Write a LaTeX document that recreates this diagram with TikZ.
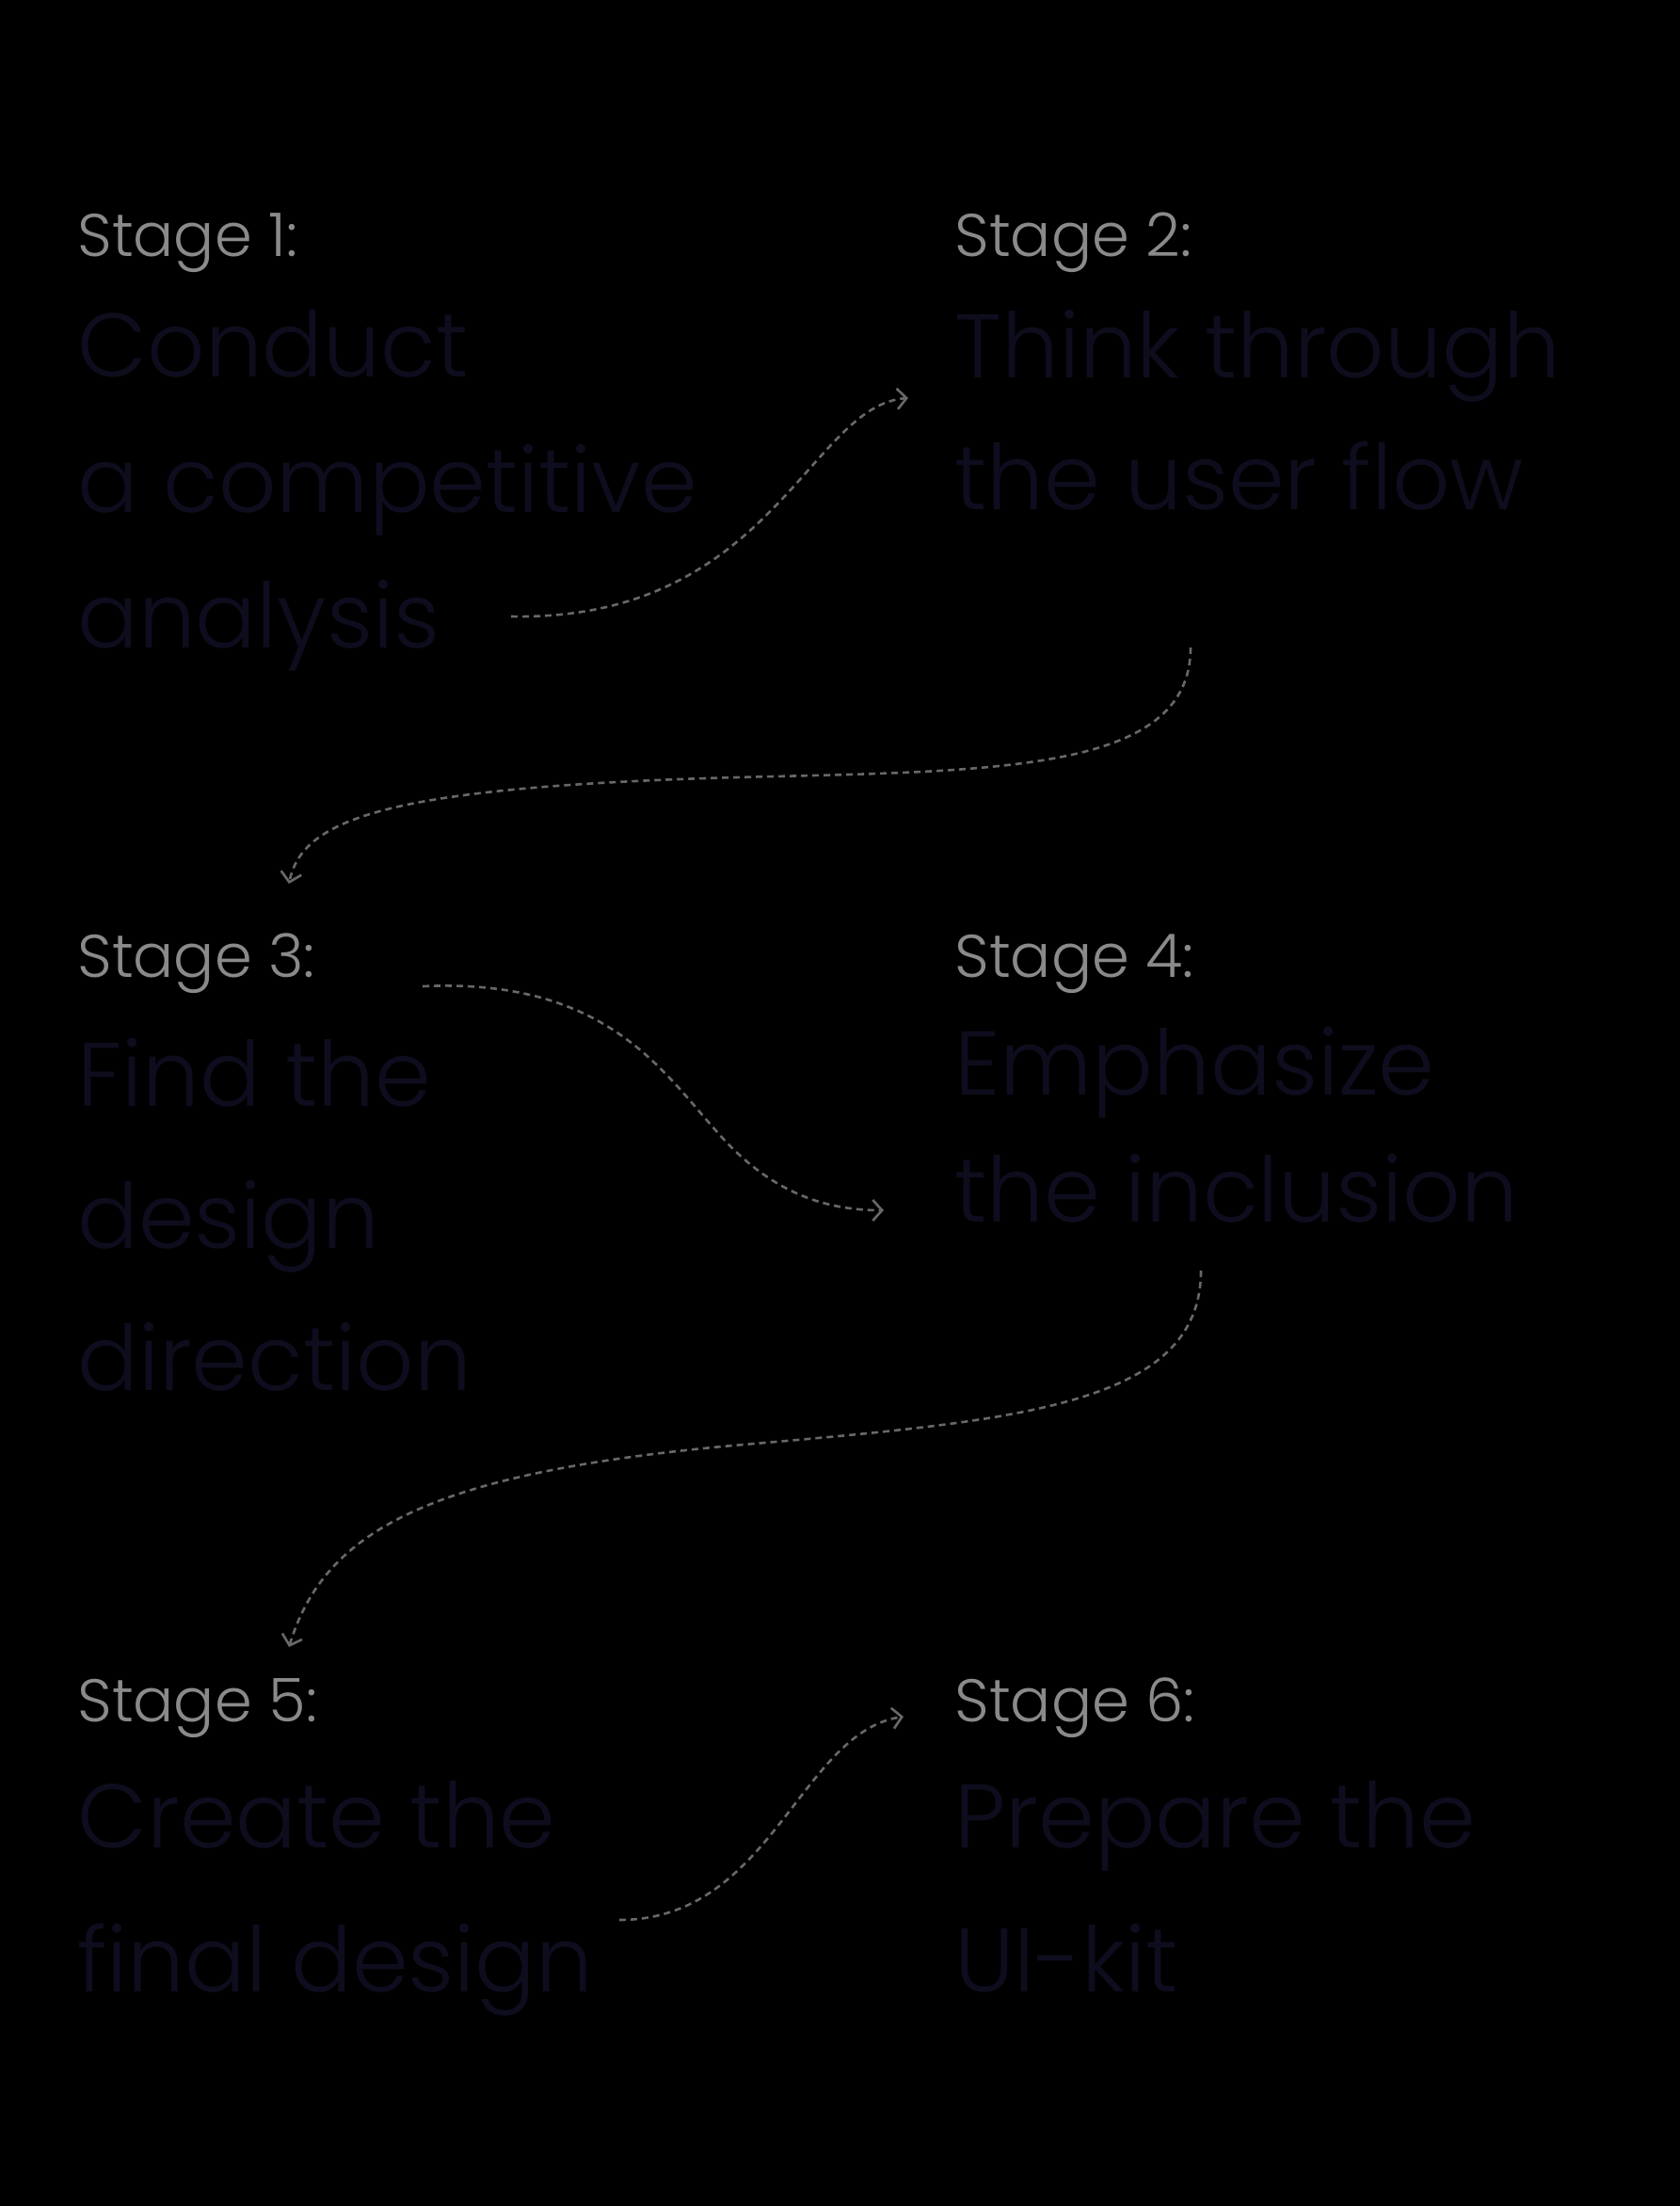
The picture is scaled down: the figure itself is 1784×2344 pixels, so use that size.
\documentclass[tikz,border=0pt]{standalone}
\usepackage{fontspec}
\setmainfont{Poppins Light}
\usetikzlibrary{arrows.meta,positioning}
\definecolor{labgray}{RGB}{138,138,138}
\definecolor{linkgray}{RGB}{104,104,104}
\definecolor{inkdark}{RGB}{14,13,30}
\tikzset{
  stagelab/.style={anchor=base west, inner sep=0pt, text=labgray, font=\fontsize{32}{38}\selectfont},
  stagetxt/.style={anchor=base west, inner sep=0pt, align=left, text=inkdark, font=\fontsize{48}{72}\selectfont},
  flow/.style={draw=linkgray, line width=1.3pt, dash pattern=on 3.5pt off 2.5pt, -{Straight Barb[length=5pt,width=11pt]}}
}
\begin{document}
\begin{tikzpicture}[x=0.5pt,y=-0.5pt]
\useasboundingbox (0,0) rectangle (1784,2344);
\fill[black] (-10,-10) rectangle (1794,2354);

% stage labels
\node (lab1) [stagelab] at (82,272) {Stage 1:};
\node (lab2) [stagelab] at (1014,272) {Stage 2:};
\node (lab3) [stagelab] at (82,1038) {Stage 3:};
\node (lab4) [stagelab] at (1014,1038) {Stage 4:};
\node (lab5) [stagelab] at (82,1829) {Stage 5:};
\node (lab6) [stagelab] at (1014,1829) {Stage 6:};

% stage texts (placed at the baseline of their last line)
\node (txt1) [stagetxt] at (82,688) {Conduct\\a competitive\\analysis};
\node (txt2) [stagetxt, font=\fontsize{48}{70}\selectfont] at (1014,541) {Think through\\the user flow};
\node (txt3) [stagetxt, font=\fontsize{48}{75.5}\selectfont] at (82,1477) {Find the\\design\\direction};
\node (txt4) [stagetxt, font=\fontsize{48}{67.5}\selectfont] at (1014,1298) {Emphasize\\the inclusion};
\node (txt5) [stagetxt, font=\fontsize{48}{76.5}\selectfont] at (82,2116) {Create the\\final design};
\node (txt6) [stagetxt, font=\fontsize{48}{76.5}\selectfont] at (1014,2116) {Prepare the\\UI-kit};

% arrow ends
\coordinate (a1s) at (543,655);  \coordinate (a1e) at (965,423);
\coordinate (a2s) at (1265,688); \coordinate (a2e) at (307,939);
\coordinate (a3s) at (449,1048); \coordinate (a3e) at (939,1286);
\coordinate (a4s) at (1276,1350);\coordinate (a4e) at (307,1750);
\coordinate (a5s) at (658,2040); \coordinate (a5e) at (960,1824);

%arrows
\draw [flow] (a1s) .. controls (820,660) and (860,430) .. (a1e);
\draw [flow] (a2s) .. controls (1265,815) and (1077,819) .. (822,825) .. controls (419,834) and (322,867) .. (a2e);
\draw [flow] (a3s) .. controls (643,1039) and (703,1137) .. (763,1204) .. controls (822,1271) and (882,1286) .. (a3e);
\draw [flow] (a4s) .. controls (1276,1495) and (1077,1510) .. (778,1536) .. controls (449,1566) and (344,1630) .. (a4e);
\draw [flow] (a5s) .. controls (820,2040) and (850,1840) .. (a5e);

\end{tikzpicture}
\end{document}
